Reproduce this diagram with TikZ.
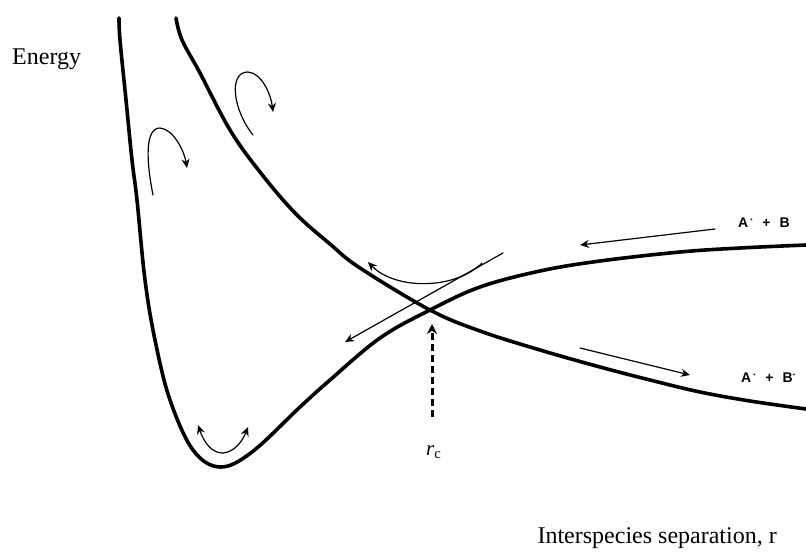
\documentclass[tikz,border=0pt]{standalone}
\usepackage{fontspec}
\setmainfont{Liberation Serif}
\newfontfamily\ionfont{Liberation Sans}
\usetikzlibrary{arrows.meta}
\tikzset{
  potential/.style={line width=3.6pt, line cap=round, line join=round},
  motion/.style={line width=1.2pt, line cap=round, -{Stealth[length=9pt, width=8pt]}},
  swing/.style={line width=1.2pt, line cap=round, {Stealth[length=9pt, width=8pt]}-{Stealth[length=9pt, width=8pt]}},
  probe/.style={line width=3pt, dash pattern=on 7pt off 4pt, -{Stealth[length=10pt, width=10pt]}},
  axistext/.style={font=\fontsize{24}{28}\selectfont, inner sep=0pt},
  rtext/.style={font=\fontsize{21}{24}\selectfont, inner sep=0pt},
  iontext/.style={font=\ionfont\bfseries\fontsize{14}{16}\selectfont, inner sep=0pt}
}
\begin{document}
\begin{tikzpicture}[x=1pt,y=-1pt]
\path[use as bounding box, fill=white] (0,0) rectangle (806,552);

% bound curve with the well
\draw[potential] plot[smooth, tension=0.6] coordinates {
  (119,18) (120,40) (126,100) (132,160) (137,200) (145,280) (155,340)
  (170,400) (193,450) (220,467) (252,452) (300,407) (330,380) (380,338)
  (430,310) (480,287) (540,271) (600,261) (680,252) (740,248) (806,245)};
% repulsive curve
\draw[potential] plot[smooth, tension=0.6] coordinates {
  (176,18) (182,40) (200,73) (230,130) (260,172) (295,213) (330,244)
  (360,268) (430,310) (480,331) (540,350) (600,367) (650,380) (700,392)
  (750,401) (806,409)};

\coordinate (cross) at (430,310);
\coordinate (probefoot) at (432,417);
\coordinate (probetip) at (432,324);

% motion arrows
\draw[motion] (253,135) .. controls (233,110) and (228,72) .. (248,72)
  .. controls (262,73) and (271,95) .. (273,112);
\draw[motion] (153,195) .. controls (146,160) and (145,128) .. (160,128)
  .. controls (173,129) and (184,150) .. (187,168);
\draw[swing] (198,425) .. controls (205,445) and (213,453) .. (223,453)
  .. controls (235,452) and (243,440) .. (248,427);
\draw[motion] (482,263) .. controls (455,290) and (395,290) .. (368,262);

\coordinate (hopstart) at (503,253);
\coordinate (hopend) at (345,342);
\draw[motion] (hopstart) -- (hopend);

\coordinate (inA) at (715,229);
\coordinate (inB) at (580,245);
\draw[motion] (inA) -- (inB);
\coordinate (outA) at (580,348);
\coordinate (outB) at (690,375);
\draw[motion] (outA) -- (outB);

\draw[probe] (probefoot) -- (probetip);

% labels
\node[axistext, anchor=base west] (energy) at (12,64) {Energy};
\node[axistext, anchor=base east] (sep) at (777,543) {Interspecies separation, r};
\node[rtext, anchor=base west] (rc) at (426,455) {\textit{r}\textsubscript{c}};
\node[iontext, anchor=base west] (reactants) at (738,227)
  {A\textsuperscript{\,\tiny+}\hspace{9pt}+\hspace{9pt}B};
\node[iontext, anchor=base west] (products) at (741,382)
  {A\textsuperscript{\,\tiny+}\hspace{9pt}+\hspace{9pt}B\textsuperscript{\tiny+}};
\end{tikzpicture}
\end{document}
